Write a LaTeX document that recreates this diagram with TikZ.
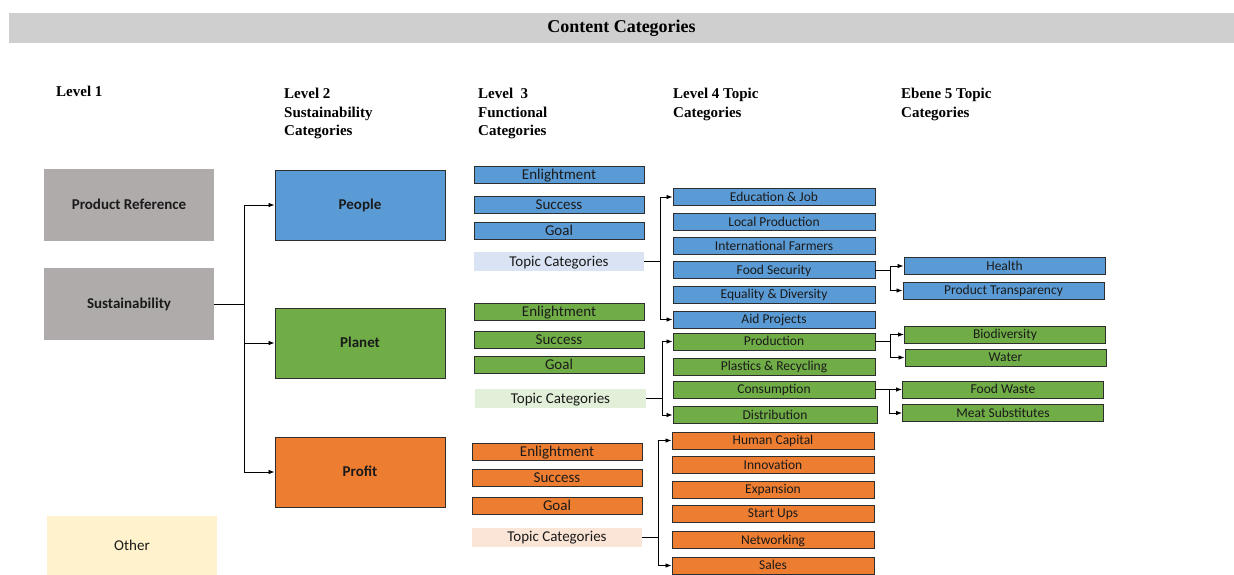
\documentclass[tikz,border=0pt]{standalone}
\usepackage{fontspec}
\setmainfont{Carlito}
\newfontfamily\hdrfont{Liberation Serif}
\usetikzlibrary{arrows.meta}
\definecolor{titlegray}{HTML}{D0CFCF}
\definecolor{levgray}{HTML}{AFABAB}
\definecolor{othery}{HTML}{FFF2CC}
\definecolor{pblue}{HTML}{5B9BD5}
\definecolor{pgreen}{HTML}{70AD47}
\definecolor{porange}{HTML}{ED7D31}
\definecolor{tblue}{HTML}{DAE3F3}
\definecolor{tgreen}{HTML}{E2F0D9}
\definecolor{torange}{HTML}{FBE5D6}
\definecolor{edge}{HTML}{2E2E2E}
\definecolor{ink}{HTML}{1A1A1A}
\definecolor{trunk}{HTML}{5A5A5A}
\begin{document}
\begin{tikzpicture}[x=1pt,y=-1pt,
  hdr/.style={font=\hdrfont\bfseries\fontsize{15}{18.5}\selectfont, anchor=north west, align=left, inner sep=0pt, text=black},
  bigtxt/.style={text height=9.8pt, text depth=0pt},
  smalltxt/.style={text height=8.8pt, text depth=0pt},
  lvone/.style={bigtxt, minimum width=170pt, minimum height=72pt, inner sep=0pt, fill=levgray, text=ink, font=\bfseries\fontsize{15}{18}\selectfont},
  lvtwo/.style={bigtxt, draw=edge, line width=0.9pt, minimum width=170pt, minimum height=70pt, inner sep=0pt, text=ink, font=\bfseries\fontsize{15}{18}\selectfont},
  lvthree/.style={bigtxt, draw=edge, line width=0.9pt, minimum width=170pt, minimum height=17pt, inner sep=0pt, text=ink, font=\fontsize{15}{16}\selectfont},
  topic/.style={bigtxt, minimum width=170pt, minimum height=19pt, inner sep=0pt, text=ink, font=\fontsize{15}{16}\selectfont},
  lvfour/.style={smalltxt, draw=edge, line width=0.9pt, minimum width=202pt, minimum height=17pt, inner sep=0pt, text=ink, font=\fontsize{13.5}{14}\selectfont},
  lvfive/.style={smalltxt, draw=edge, line width=0.9pt, minimum width=201pt, minimum height=17pt, inner sep=0pt, text=ink, font=\fontsize{13.5}{14}\selectfont},
  conn/.style={draw=black, line width=0.8pt, -{Latex[length=6pt,width=4.5pt]}}
]
\useasboundingbox (0,0) rectangle (1234,574);

% title bar
\node[fill=titlegray, minimum width=1225pt, minimum height=30pt, inner sep=0pt,
  font=\hdrfont\bfseries\fontsize{18}{20}\selectfont] (title) at (621.5,28) {Content Categories};

% column headers
\node[hdr] (h1) at (56,86) {Level 1};
\node[hdr] (h2) at (284,88) {Level 2\\Sustainability\\Categories};
\node[hdr] (h3) at (478,88) {Level\ \ 3\\Functional\\Categories};
\node[hdr] (h4) at (673,88) {Level 4 Topic\\Categories};
\node[hdr] (h5) at (901,88) {Ebene 5 Topic\\Categories};

% level 1
\node[lvone] (prodref) at (129,205) {Product Reference};
\node[lvone] (sust) at (129,304) {Sustainability};
\node[lvone, fill=othery, minimum height=60pt, font=\fontsize{15}{18}\selectfont] (other) at (132,546) {Other};

% level 2
\node[lvtwo, fill=pblue] (people) at (360,205) {People};
\node[lvtwo, fill=pgreen] (planet) at (360,343) {Planet};
\node[lvtwo, fill=porange] (profit) at (360,472) {Profit};

% level 3 - people
\node[lvthree, fill=pblue] (enlA) at (559,175) {Enlightment};
\node[lvthree, fill=pblue] (sucA) at (559,205) {Success};
\node[lvthree, fill=pblue] (goalA) at (559,231) {Goal};
\node[topic, fill=tblue] (topA) at (559,261.5) {Topic Categories};
% level 3 - planet
\node[lvthree, fill=pgreen] (enlB) at (559,311.5) {Enlightment};
\node[lvthree, fill=pgreen] (sucB) at (559,339.5) {Success};
\node[lvthree, fill=pgreen] (goalB) at (559,364.5) {Goal};
\node[topic, fill=tgreen, minimum width=171pt] (topB) at (560.5,398.5) {Topic Categories};
% level 3 - profit
\node[lvthree, fill=porange] (enlC) at (557,451.5) {Enlightment};
\node[lvthree, fill=porange] (sucC) at (557,478) {Success};
\node[lvthree, fill=porange] (goalC) at (557,505.5) {Goal};
\node[topic, fill=torange] (topC) at (557,537) {Topic Categories};

% level 4 - people
\node[lvfour, fill=pblue] (edu) at (774,197) {Education \& Job};
\node[lvfour, fill=pblue] (local) at (774,222) {Local Production};
\node[lvfour, fill=pblue] (intl) at (774,246) {International Farmers};
\node[lvfour, fill=pblue] (food) at (774,270) {Food Security};
\node[lvfour, fill=pblue] (equal) at (774,294.5) {Equality \& Diversity};
\node[lvfour, fill=pblue] (aid) at (774,319.5) {Aid Projects};
% level 4 - planet
\node[lvfour, fill=pgreen] (prod) at (774,341.5) {Production};
\node[lvfour, fill=pgreen] (plast) at (774,366.5) {Plastics \& Recycling};
\node[lvfour, fill=pgreen] (cons) at (774,389.5) {Consumption};
\node[lvfour, fill=pgreen, minimum width=204pt] (dist) at (775,415) {Distribution};
% level 4 - profit
\node[lvfour, fill=porange] (human) at (773,440.5) {Human Capital};
\node[lvfour, fill=porange] (innov) at (773,465) {Innovation};
\node[lvfour, fill=porange] (expan) at (773,489.5) {Expansion};
\node[lvfour, fill=porange] (start) at (773,513.5) {Start Ups};
\node[lvfour, fill=porange] (netw) at (773,540) {Networking};
\node[lvfour, fill=porange] (sales) at (773,565.5) {Sales};

% level 5
\node[lvfive, fill=pblue] (health) at (1004.5,266) {Health};
\node[lvfive, fill=pblue] (transp) at (1003.5,290.5) {Product Transparency};
\node[lvfive, fill=pgreen] (bio) at (1005,334.5) {Biodiversity};
\node[lvfive, fill=pgreen] (water) at (1005.5,357.5) {Water};
\node[lvfive, fill=pgreen] (fwaste) at (1003,389.5) {Food Waste};
\node[lvfive, fill=pgreen] (meat) at (1003,413) {Meat Substitutes};

% level 1 -> level 2 (grey trunk, black branches)
\draw[trunk, line width=1pt] ([xshift=30pt]sust.east) -- ([xshift=30pt]sust.east |- people.west);
\draw[trunk, line width=1pt] ([xshift=30pt]sust.east) -- ([xshift=30pt]sust.east |- profit.west);
\draw[conn] (sust.east) -- ++(30,0) |- (people.west);
\draw[conn] (sust.east) -- ++(30,0) |- (planet.west);
\draw[conn] (sust.east) -- ++(30,0) |- (profit.west);

% topic categories -> level 4
\draw[conn] (topA.east) -- ++(16,0) |- (edu.west);
\draw[conn] (topA.east) -- ++(16,0) |- (aid.west);
\draw[conn] (topB.east) -- ++(16,0) |- (prod.west);
\draw[conn] (topB.east) -- ++(16,0) |- (dist.west);
\draw[conn] (topC.east) -- ++(16,0) |- (human.west);
\draw[conn] (topC.east) -- ++(16,0) |- (sales.west);

% level 4 -> level 5
\draw[conn] (food.east) -- ++(15,0) |- (health.west);
\draw[conn] (food.east) -- ++(15,0) |- (transp.west);
\draw[conn] (prod.east) -- ++(15,0) |- (bio.west);
\draw[conn] (prod.east) -- ++(15,0) |- (water.west);
\draw[conn] (cons.east) -- ++(14,0) |- (fwaste.west);
\draw[conn] (cons.east) -- ++(14,0) |- (meat.west);
\end{tikzpicture}
\end{document}
